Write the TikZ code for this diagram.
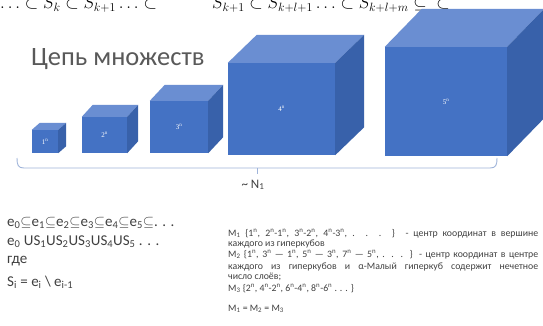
\documentclass[tikz,border=0pt]{standalone}
\usepackage{fontspec}
\setmainfont{Carlito}
\newfontfamily\serifB{Liberation Serif}
\usetikzlibrary{calc}
\definecolor{cfront}{HTML}{4472C4}
\definecolor{ctop}{HTML}{6A8ED2}
\definecolor{cside}{HTML}{3861AA}
\definecolor{cbrace}{HTML}{9FB4DA}
\definecolor{ctitle}{HTML}{595959}
\definecolor{ctext}{HTML}{404040}
\tikzset{
  front/.style={fill=cfront, draw=none, inner sep=0pt, text=white, font=\serifB\fontsize{7}{8}\selectfont},
  topface/.style={fill=ctop, draw=none},
  sideface/.style={fill=cside, draw=none},
  smalltext/.style={anchor=base west, inner sep=0pt, text=ctext, font=\fontsize{9.8}{11}\selectfont},
  lefttext/.style={anchor=base west, inner sep=0pt, text=ctext, font=\fontsize{15}{17}\selectfont},
}
\newcommand{\mycube}[3]{% name, depth x, depth y
  \fill[topface] (#1.north west) -- ++(#2,-#3) -- ($(#1.north east)+(#2,-#3)$) -- (#1.north east) -- cycle;
  \fill[sideface] (#1.north east) -- ++(#2,-#3) -- ($(#1.south east)+(#2,-#3)$) -- (#1.south east) -- cycle;
}
\begin{document}
\begin{tikzpicture}[x=1pt,y=-1pt]
\useasboundingbox (0,0) rectangle (543,326);
\clip (0,0) rectangle (543,326);
\fill[white] (0,0) rectangle (543,326);
% top clipped formula
\node[anchor=base west, inner sep=0pt, font=\fontsize{17}{20}\selectfont] (f1) at (0,9)
  {$\ldots\subset S_{k}\subset S_{k+1}\ldots\subset$};
\node[anchor=base west, inner sep=0pt, font=\fontsize{17}{20}\selectfont] (f2) at (212,9)
  {$S_{k+1}\subset S_{k+l+1}\ldots\subset S_{k+l+m}\subseteq\;\;\subset$};
% title
\node[anchor=base west, inner sep=0pt, text=ctitle, font=\fontsize{26.5}{30}\selectfont] (title) at (31,66) {Цепь множеств};
% cubes
\node[front, minimum width=26pt, minimum height=23pt] (c1) at (45,141.5) {1\textsuperscript{n}};
\mycube{c1}{8}{7}
\node[front, minimum width=45pt, minimum height=36pt] (c2) at (104.5,135) {2\textsuperscript{n}};
\mycube{c2}{11}{12}
\node[front, minimum width=58pt, minimum height=52pt] (c3) at (179,127) {3\textsuperscript{n}};
\mycube{c3}{15}{16}
\node[front, minimum width=107pt, minimum height=92pt] (c4) at (281.5,109) {4\textsuperscript{n}};
\mycube{c4}{29}{28}
\node[front, minimum width=122pt, minimum height=109pt] (c5) at (446,101.5) {5\textsuperscript{n}};
\mycube{c5}{37}{38}
% brace
\coordinate (bl) at (17,158);
\coordinate (br) at (497,158);
\coordinate (bm) at (257,168);
\draw[cbrace, line width=0.9pt] (bl) .. controls (17,165) and (18,168) .. (24,168) -- (490,168)
  .. controls (496,168) and (497,165) .. (br);
\draw[cbrace, line width=0.9pt] (bm) -- ++(0,6);
\node[anchor=base, inner sep=0pt, text=ctext, font=\fontsize{13}{15}\selectfont] (n1) at (253,188) {\textasciitilde{} N\textsubscript{1}};
% left text
\node[lefttext] (l1) at (7,226) {e\textsubscript{0}$\subseteq$e\textsubscript{1}$\subseteq$e\textsubscript{2}$\subseteq$e\textsubscript{3}$\subseteq$e\textsubscript{4}$\subseteq$e\textsubscript{5}$\subseteq$. . .};
\node[lefttext] (l2) at (7,245) {e\textsubscript{0} US\textsubscript{1}US\textsubscript{2}US\textsubscript{3}US\textsubscript{4}US\textsubscript{5} . . .};
\node[lefttext] (l3) at (7,263) {где};
\node[lefttext] (l4) at (7,286) {S\textsubscript{i} = e\textsubscript{i} \textbackslash{} e\textsubscript{i-1}};
% right text
\node[smalltext] (r1) at (228,236) {\makebox[310pt][s]{M\textsubscript{1} \{1\textsuperscript{n}, 2\textsuperscript{n}-1\textsuperscript{n}, 3\textsuperscript{n}-2\textsuperscript{n}, 4\textsuperscript{n}-3\textsuperscript{n}, . . . \} - центр координат в вершине}};
\node[smalltext] (r2) at (228,246) {каждого из гиперкубов};
\node[smalltext] (r3) at (228,257) {\makebox[310pt][s]{M\textsubscript{2} \{1\textsuperscript{n}, 3\textsuperscript{n} — 1\textsuperscript{n}, 5\textsuperscript{n} — 3\textsuperscript{n}, 7\textsuperscript{n} — 5\textsuperscript{n}, . . . \} - центр координат в центре}};
\node[smalltext] (r4) at (228,269) {\makebox[310pt][s]{каждого из гиперкубов и α-Малый гиперкуб содержит нечетное}};
\node[smalltext] (r5) at (228,279) {число слоёв;};
\node[smalltext] (r6) at (228,291) {M\textsubscript{3} \{2\textsuperscript{n}, 4\textsuperscript{n}-2\textsuperscript{n}, 6\textsuperscript{n}-4\textsuperscript{n}, 8\textsuperscript{n}-6\textsuperscript{n} . . . \}};
\node[smalltext] (r7) at (228,311) {M\textsubscript{1} = M\textsubscript{2} = M\textsubscript{3}};
\end{tikzpicture}
\end{document}
